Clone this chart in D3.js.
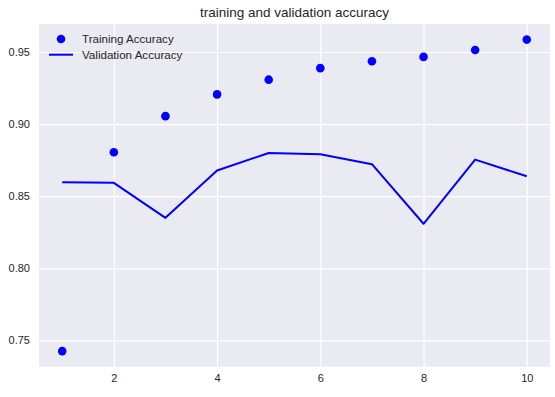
<!DOCTYPE html>
<html>
<head>
<meta charset="utf-8">
<script src="https://cdn.jsdelivr.net/npm/d3@7"></script>
<style>
  body { margin: 0; background: #fff; }
  svg text { font-family: Arial, "Liberation Sans", sans-serif; fill: #262626; }
</style>
</head>
<body>
<svg id="chart" width="555" height="397"></svg>
<script>
const epochs = [1, 2, 3, 4, 5, 6, 7, 8, 9, 10];
const trainAcc = [0.7426, 0.8805, 0.9055, 0.9206, 0.9308, 0.9388, 0.9436, 0.9466, 0.9514, 0.9586];
const valAcc = [0.8597, 0.8593, 0.8350, 0.8678, 0.8800, 0.8791, 0.8722, 0.8309, 0.8754, 0.8638];
const xTicks = [2, 4, 6, 8, 10];
const yTicks = [0.75, 0.80, 0.85, 0.90, 0.95];

const svg = d3.select("svg#chart");
const margin = { top: 24, right: 5, bottom: 30.3, left: 39 };
const width = 555 - margin.left - margin.right;
const height = 397 - margin.top - margin.bottom;
const g = svg.append("g").attr("transform", `translate(${margin.left},${margin.top})`);

// matplotlib-style 5% padding around the data
const xPad = (d3.max(epochs) - d3.min(epochs)) * 0.05;
const allY = trainAcc.concat(valAcc);
const yPad = (d3.max(allY) - d3.min(allY)) * 0.05;

const x = d3.scaleLinear()
  .domain([d3.min(epochs) - xPad, d3.max(epochs) + xPad])
  .range([0, width]);
const y = d3.scaleLinear()
  .domain([d3.min(allY) - yPad, d3.max(allY) + yPad])
  .range([height, 0]);

g.append("rect")
  .attr("width", width)
  .attr("height", height)
  .attr("fill", "#eaeaf2");

// grid
g.append("g")
  .attr("transform", `translate(0,${height})`)
  .call(d3.axisBottom(x).tickValues(xTicks).tickSize(-height).tickFormat(d3.format("d")).tickPadding(8))
  .call(a => a.select(".domain").remove())
  .call(a => a.selectAll("line").attr("stroke", "#fff").attr("stroke-width", 1.2))
  .call(a => a.selectAll("text").attr("font-size", 11).attr("fill", "#262626"));

g.append("g")
  .call(d3.axisLeft(y).tickValues(yTicks).tickSize(-width).tickFormat(d3.format(".2f")).tickPadding(9))
  .call(a => a.select(".domain").remove())
  .call(a => a.selectAll("line").attr("stroke", "#fff").attr("stroke-width", 1.2))
  .call(a => a.selectAll("text").attr("font-size", 11).attr("fill", "#262626"));

// validation line
g.append("path")
  .datum(epochs.map((e, i) => [e, valAcc[i]]))
  .attr("fill", "none")
  .attr("stroke", "#0000ff")
  .attr("stroke-width", 2)
  .attr("stroke-linejoin", "round")
  .attr("d", d3.line().x(d => x(d[0])).y(d => y(d[1])));

// training dots
g.selectAll("circle.train")
  .data(epochs.map((e, i) => [e, trainAcc[i]]))
  .enter()
  .append("circle")
  .attr("class", "train")
  .attr("r", 4.3)
  .attr("cx", d => x(d[0]))
  .attr("cy", d => y(d[1]))
  .attr("fill", "#0000ff");

// title
svg.append("text")
  .attr("x", margin.left + width / 2)
  .attr("y", 17)
  .attr("text-anchor", "middle")
  .attr("font-size", 13.5)
  .text("training and validation accuracy");

// legend
const legend = g.append("g").attr("transform", "translate(10,0)");
legend.append("circle")
  .attr("cx", 12).attr("cy", 15).attr("r", 4.3).attr("fill", "#0000ff");
legend.append("line")
  .attr("x1", 0).attr("x2", 24).attr("y1", 30.7).attr("y2", 30.7)
  .attr("stroke", "#0000ff").attr("stroke-width", 2);
legend.append("text")
  .attr("x", 33).attr("y", 19).attr("font-size", 11.6).text("Training Accuracy");
legend.append("text")
  .attr("x", 33).attr("y", 34.7).attr("font-size", 11.6).text("Validation Accuracy");
</script>
</body>
</html>
